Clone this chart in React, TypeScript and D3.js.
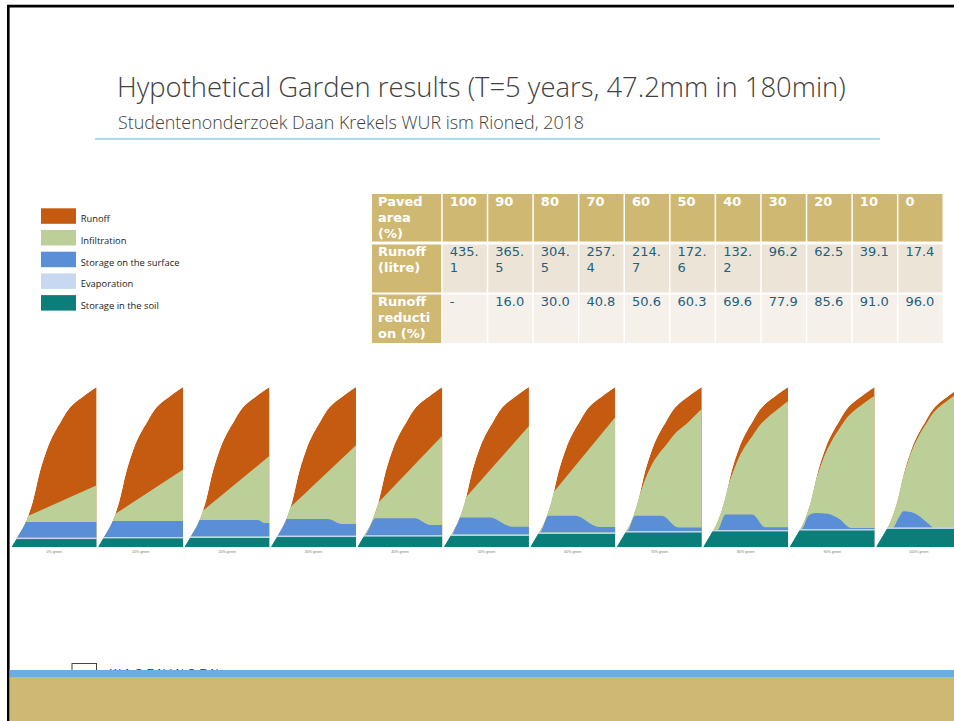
import React from "react";
import * as d3 from "d3";

const W = 954;
const H = 721;

// time axis of every small panel (minutes of the 180 min storm)
const minutes = [0, 15, 30, 45, 60, 75, 90, 105, 120, 135, 150, 165, 180];
// cumulative rainfall on the garden (litre)
const rainfall = [0, 53, 111, 204, 336, 434, 504, 558, 608, 640, 664, 687, 708];

const pavedArea = [100, 90, 80, 70, 60, 50, 40, 30, 20, 10, 0];
const runoffLitre = [435.1, 365.5, 304.5, 257.4, 214.7, 172.6, 132.2, 96.2, 62.5, 39.1, 17.4];
const runoffReduction = [null, 16.0, 30.0, 40.8, 50.6, 60.3, 69.6, 77.9, 85.6, 91.0, 96.0];

// top of the infiltration layer per panel: [minute, litre] (above it is runoff)
const infiltrationTop = [
    [[0, 105], [180, 273]],
    [[0, 97], [180, 342.5]],
    [[0, 94], [180, 403.5]],
    [[0, 96], [180, 450.6]],
    [[0, 101], [180, 493.3]],
    [[0, 110], [180, 535.4]],
    [[0, 118], [180, 575.8]],
    [[0, 150], [15, 160], [30, 180], [45, 215], [60, 300], [75, 368], [90, 416], [105, 454], [120, 495], [135, 524], [150, 550], [165, 581], [180, 611.8]],
    [[0, 150], [15, 165], [30, 190], [45, 230], [60, 316], [75, 394], [90, 450], [105, 495], [120, 540], [135, 571], [150, 597], [165, 622], [180, 645.5]],
    [[0, 150], [15, 170], [30, 200], [45, 235], [60, 326], [75, 412], [90, 474], [105, 523], [120, 570], [135, 601], [150, 625], [165, 648], [180, 668.9]],
    [[0, 150], [15, 170], [30, 200], [45, 240], [60, 332], [75, 424], [90, 491], [105, 543], [120, 592], [135, 623], [150, 646.6], [165, 669.6], [180, 690.6]],
];

// storage in the soil and evaporation per panel (litre)
const soilStorage = [35, 38, 40, 44, 46, 49, 58, 64, 69, 73, 80];
const evaporation = [6, 6, 6, 6, 6, 6, 6, 6, 6, 6, 6];

// storage on the surface per panel: [minute, litre]
const surfaceStorage = [
    [[0, 70], [180, 70]],
    [[0, 71], [180, 71]],
    [[0, 74], [155, 74], [170, 60], [180, 60]],
    [[0, 74], [120, 74], [150, 52], [180, 52]],
    [[0, 0], [15, 0], [38, 75], [121, 75], [155, 45], [180, 45]],
    [[0, 0], [18, 0], [30, 75], [97, 75], [144, 35], [180, 35]],
    [[0, 0], [20, 0], [38, 74], [95, 74], [144, 25], [180, 25]],
    [[0, 0], [22, 0], [39, 68], [95, 68], [130, 16], [180, 16]],
    [[0, 0], [30, 0], [47, 69], [104, 69], [131, 12], [180, 12]],
    [[0, 0], [25, 0], [40, 60], [55, 71], [80, 68], [105, 45], [130, 5], [180, 5]],
    [[0, 0], [35, 0], [48, 45], [58, 72], [75, 68], [95, 45], [110, 18], [122, 0], [180, 0]],
];

const legendLabels = ["Runoff", "Infiltration", "Storage on the surface", "Evaporation", "Storage in the soil"];
const legendColors = ["#c55a11", "#bccf98", "#5a8ed6", "#c6d9f1", "#0b7e7a"];
const [cRunoff, cInfil, cSurface, cEvap, cSoil] = legendColors;

const tableFont = "'DejaVu Sans', Verdana, sans-serif";
const tan = "#cfb872";
const dataInk = "#1f5f80";

const splitValue = (s: string) => (s.length > 4 ? [s.slice(0, 4), s.slice(4)] : [s]);

const Panels = () => {
    const band = d3.scaleBand<number>().domain(pavedArea).range([11.7, 961.2]).paddingInner(0.0168);
    const x = d3.scaleLinear().domain([0, 180]).range([0, band.bandwidth()]);
    const y = d3.scaleLinear().domain([0, d3.max(rainfall) as number]).range([547, 387]);

    const rainArea = d3.area<number>()
        .x((_, i) => x(minutes[i]))
        .y0(y(0))
        .y1(d => y(d))
        .curve(d3.curveMonotoneX);
    const rainPath = rainArea(rainfall) as string;

    const topArea = d3.area<number[]>()
        .x(d => x(d[0]))
        .y0(y(0))
        .y1(d => y(d[1]))
        .curve(d3.curveMonotoneX);

    return (
        <g>
            <defs>
                <clipPath id="rain-clip">
                    <path d={rainPath} />
                </clipPath>
            </defs>
            {pavedArea.map((p, k) => {
                const evapTop = soilStorage[k] + evaporation[k];
                const surface = d3.area<number[]>()
                    .x(d => x(d[0]))
                    .y0(y(evapTop))
                    .y1(d => y(evapTop + d[1]))
                    .curve(d3.curveMonotoneX);
                return (
                    <g key={p} transform={`translate(${band(p)},0)`}>
                        <g clipPath="url(#rain-clip)">
                            <path d={rainPath} fill={cRunoff} />
                            <path d={topArea(infiltrationTop[k]) as string} fill={cInfil} />
                            <path d={surface(surfaceStorage[k]) as string} fill={cSurface} />
                            <rect x={x(0)} width={x(180) - x(0)} y={y(evapTop)} height={y(0) - y(evapTop)} fill={cEvap} />
                            <rect x={x(0)} width={x(180) - x(0)} y={y(soilStorage[k])} height={y(0) - y(soilStorage[k])} fill={cSoil} />
                        </g>
                        <text x={x(90)} y={553} fontSize={3.6} fill="#777" textAnchor="middle" fontFamily="Arial, sans-serif">
                            {`${100 - p}% green`}
                        </text>
                    </g>
                );
            })}
        </g>
    );
};

const Table = () => {
    const col = d3.scaleBand<number>().domain(pavedArea).range([442.7, 942.5]).paddingInner(0.033);
    const left = 372;
    const firstW = 442.7 - left - 1.5;
    const rows = [
        { top: 194, h: 47.7, bg: tan, head: ["Paved", "area", "(%)"], cells: pavedArea.map(v => [String(v)]), bold: true },
        { top: 244.3, h: 48.4, bg: "#ece5d7", head: ["Runoff", "(litre)"], cells: runoffLitre.map(v => splitValue(v.toFixed(1))), bold: false },
        { top: 294.3, h: 49, bg: "#f5f1ea", head: ["Runoff", "reducti", "on (%)"], cells: runoffReduction.map(v => [v == null ? "-" : v.toFixed(1)]), bold: false },
    ];
    return (
        <g fontFamily={tableFont} fontSize={13}>
            <defs>
                {rows.map((r, ri) => (
                    <clipPath id={`row-clip-${ri}`} key={ri}>
                        <rect x={left} y={r.top} width={600} height={r.h} />
                    </clipPath>
                ))}
            </defs>
            {rows.map((r, ri) => (
                <g key={ri} clipPath={`url(#row-clip-${ri})`}>
                    <rect x={left} y={r.top} width={firstW} height={r.h} fill={tan} />
                    {r.head.map((t, li) => (
                        <text key={li} x={left + 6} y={r.top + 12 + li * 16} fill="#fff" fontWeight="bold">{t}</text>
                    ))}
                    {pavedArea.map((p, ci) => (
                        <g key={p}>
                            <rect x={col(p)} y={r.top} width={col.bandwidth()} height={r.h} fill={r.bg} />
                            {r.cells[ci].map((t, li) => (
                                <text key={li} x={(col(p) as number) + 7} y={r.top + 12 + li * 16}
                                    fill={r.bold ? "#fff" : dataInk} fontWeight={r.bold ? "bold" : "normal"}>{t}</text>
                            ))}
                        </g>
                    ))}
                </g>
            ))}
        </g>
    );
};

const Legend = () => (
    <g fontFamily="'Open Sans', Arial, sans-serif" fontSize={9.4} fill="#222">
        {legendLabels.map((l, i) => (
            <g key={l} transform={`translate(41,${208.3 + i * 21.7})`}>
                <rect width={35} height={15.5} fill={legendColors[i]} />
                <text x={39.7} y={14}>{l}</text>
            </g>
        ))}
    </g>
);

export default function App() {
    return (
        <svg width={W} height={H} style={{ position: "absolute", left: 0, top: 0, display: "block", background: "#fff" }}>
            {/* slide frame */}
            <rect x={7} y={4} width={W - 7} height={1} fill="#bbb" />
            <rect x={7} y={5} width={W - 7} height={2.5} fill="#000" />
            <rect x={7} y={5} width={2.6} height={H - 5} fill="#000" />

            <text x={117} y={97} fontFamily="'Open Sans', sans-serif" fontWeight={300} fontSize={27.4} fill="#404040">
                Hypothetical Garden results (T=5 years, 47.2mm in 180min)
            </text>
            <text x={118} y={129} fontFamily="'Open Sans', sans-serif" fontWeight={300} fontSize={17.9} fill="#404040">
                Studentenonderzoek Daan Krekels WUR ism Rioned, 2018
            </text>
            <line x1={95} x2={880} y1={139} y2={139} stroke="#8fd0ec" strokeWidth={1.5} />

            <Legend />
            <Table />
            <Panels />

            {/* footer */}
            <rect x={72} y={663.5} width={24.5} height={12} fill="none" stroke="#444" strokeWidth={1} />
            <text x={110} y={677} fontFamily="Arial, sans-serif" fontSize={11} fill="#333" letterSpacing={3.6}>WAGENINGEN</text>
            <rect x={9.6} y={670} width={W - 9.6} height={7} fill="#6aade2" />
            <rect x={9.6} y={677} width={W - 9.6} height={H - 677} fill="#cfb874" />
        </svg>
    );
}
